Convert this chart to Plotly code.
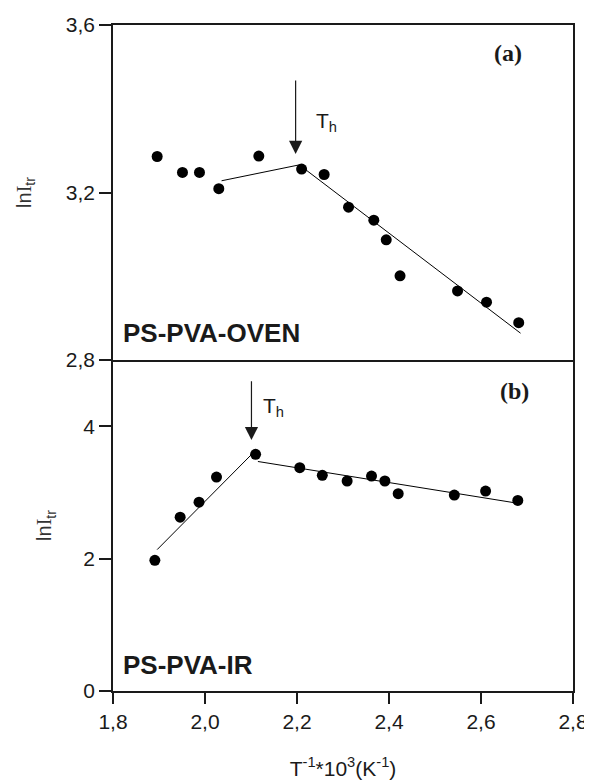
import plotly.graph_objects as go
from plotly.subplots import make_subplots

# ---- data ----
# (a) PS-PVA-OVEN
oven_x = [1.896, 1.951, 1.988, 2.030, 2.117, 2.210, 2.259, 2.312, 2.367, 2.394, 2.424, 2.549, 2.612, 2.682]
oven_y = [3.286, 3.248, 3.248, 3.209, 3.287, 3.256, 3.243, 3.165, 3.134, 3.087, 3.001, 2.965, 2.938, 2.889]
oven_fit_x = [2.036, 2.205, 2.686]
oven_fit_y = [3.228, 3.266, 2.864]
oven_th = 2.197

# (b) PS-PVA-IR
ir_x = [1.891, 1.946, 1.987, 2.025, 2.110, 2.206, 2.255, 2.309, 2.362, 2.391, 2.420, 2.542, 2.610, 2.680]
ir_y = [1.974, 2.626, 2.853, 3.232, 3.576, 3.374, 3.258, 3.172, 3.247, 3.172, 2.980, 2.960, 3.020, 2.879]
ir_fit1_x = [1.896, 2.105]
ir_fit1_y = [2.136, 3.600]
ir_fit2_x = [2.115, 2.685]
ir_fit2_y = [3.467, 2.830]
ir_th = 2.101

x_ticks = [1.8, 2.0, 2.2, 2.4, 2.6, 2.8]
x_ticktext = ["1,8", "2,0", "2,2", "2,4", "2,6", "2,8"]
ya_ticks = [2.8, 3.2, 3.6]
ya_ticktext = ["2,8", "3,2", "3,6"]
yb_ticks = [0, 2, 4]
yb_ticktext = ["0", "2", "4"]

SANS = "Liberation Sans, Arial, sans-serif"
SERIF = "Liberation Serif, Times New Roman, serif"
INK = "#1a1a1a"
Y_TITLE = "ln<span style='font-family:Liberation Serif'>I</span><sub>tr</sub>"

fig = make_subplots(rows=2, cols=1, vertical_spacing=0)

marker = dict(color="black", size=11, symbol="circle")
line = dict(color="black", width=1)

fig.add_trace(go.Scatter(x=oven_x, y=oven_y, mode="markers", marker=marker, showlegend=False), row=1, col=1)
fig.add_trace(go.Scatter(x=oven_fit_x, y=oven_fit_y, mode="lines", line=line, showlegend=False), row=1, col=1)
fig.add_trace(go.Scatter(x=ir_x, y=ir_y, mode="markers", marker=marker, showlegend=False), row=2, col=1)
fig.add_trace(go.Scatter(x=ir_fit1_x, y=ir_fit1_y, mode="lines", line=line, showlegend=False), row=2, col=1)
fig.add_trace(go.Scatter(x=ir_fit2_x, y=ir_fit2_y, mode="lines", line=line, showlegend=False), row=2, col=1)

axis_common = dict(showline=True, linecolor=INK, linewidth=1.5,
                   showgrid=False, zeroline=False, automargin=False,
                   tickfont=dict(family=SANS, size=21, color=INK))

fig.update_xaxes(range=[1.8, 2.8], domain=[0, 1], tickvals=x_ticks, ticktext=x_ticktext,
                 ticks="outside", ticklen=11, tickwidth=1.5, tickcolor=INK, mirror=False,
                 title=dict(text="T<sup>-1</sup>*10<sup>3</sup>(K<sup>-1</sup>)",
                            font=dict(family=SANS, size=21, color=INK), standoff=29),
                 row=2, col=1, **axis_common)
fig.update_xaxes(range=[1.8, 2.8], domain=[0, 1], showticklabels=False, ticks="", mirror=True,
                 row=1, col=1, **axis_common)

fig.update_yaxes(range=[2.8, 3.6], domain=[0.497, 1], tickvals=ya_ticks, ticktext=ya_ticktext,
                 ticks="outside", ticklen=12, tickwidth=1.5, tickcolor=INK, mirror=True,
                 title=dict(text=Y_TITLE, font=dict(family=SANS, size=20, color="#333"),
                            standoff=29),
                 row=1, col=1, **axis_common)
fig.update_yaxes(range=[0, 5], domain=[0, 0.497], tickvals=yb_ticks, ticktext=yb_ticktext,
                 ticks="outside", ticklen=12, tickwidth=1.5, tickcolor=INK, mirror=True,
                 title=dict(text=Y_TITLE, font=dict(family=SANS, size=20, color="#333"),
                            standoff=26),
                 row=2, col=1, **axis_common)

annotations = [
    # panel letters
    dict(x=2.658, y=3.532, xref="x", yref="y", text="<b>(a)</b>", showarrow=False,
         font=dict(family=SERIF, size=24, color=INK), xanchor="center", yanchor="middle"),
    dict(x=2.673, y=4.53, xref="x2", yref="y2", text="<b>(b)</b>", showarrow=False,
         font=dict(family=SERIF, size=24, color=INK), xanchor="center", yanchor="middle"),
    # sample names
    dict(x=1.818, y=2.864, xref="x", yref="y", text="<b>PS-PVA-OVEN</b>", showarrow=False,
         font=dict(family=SANS, size=26, color=INK), xanchor="left", yanchor="middle"),
    dict(x=1.818, y=0.394, xref="x2", yref="y2", text="<b>PS-PVA-IR</b>", showarrow=False,
         font=dict(family=SANS, size=26, color=INK), xanchor="left", yanchor="middle"),
    # T_h labels
    dict(x=2.238, y=3.369, xref="x", yref="y", text="T<sub>h</sub>", showarrow=False,
         font=dict(family=SANS, size=21, color=INK), xanchor="left", yanchor="middle"),
    dict(x=2.121, y=4.29, xref="x2", yref="y2", text="T<sub>h</sub>", showarrow=False,
         font=dict(family=SANS, size=21, color=INK), xanchor="left", yanchor="middle"),
    # arrows
    dict(x=oven_th, y=3.292, ax=oven_th, ay=3.471, xref="x", yref="y", axref="x", ayref="y",
         text="", showarrow=True, arrowhead=2, arrowsize=2.2, arrowwidth=1.2, arrowcolor=INK),
    dict(x=ir_th, y=3.79, ax=ir_th, ay=4.70, xref="x2", yref="y2", axref="x2", ayref="y2",
         text="", showarrow=True, arrowhead=2, arrowsize=2.2, arrowwidth=1.2, arrowcolor=INK),
]

# the page body adds an 8px offset, so the figure is 8px smaller and margins are shifted
fig.update_layout(width=584, height=774, margin=dict(l=105, r=19, t=17, b=91),
                  paper_bgcolor="white", plot_bgcolor="white", annotations=annotations,
                  showlegend=False)

fig.write_html("out.html")
